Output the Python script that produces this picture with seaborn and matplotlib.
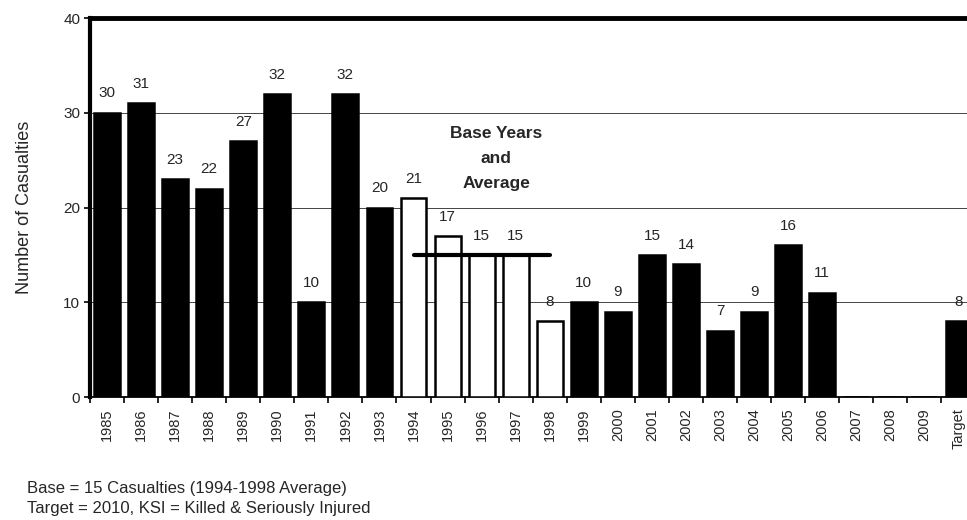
import matplotlib
matplotlib.use('Agg')
import pandas as pd
import matplotlib.pyplot as plt
import seaborn as sns

years = ['1985', '1986', '1987', '1988', '1989', '1990', '1991', '1992', '1993',
         '1994', '1995', '1996', '1997', '1998', '1999', '2000', '2001', '2002',
         '2003', '2004', '2005', '2006', '2007', '2008', '2009', 'Target']
casualties = [30, 31, 23, 22, 27, 32, 10, 32, 20,
              21, 17, 15, 15, 8, 10, 9, 15, 14,
              7, 9, 16, 11, 0, 0, 0, 8]
base_years = ['1994', '1995', '1996', '1997', '1998']
base_average = 15

df = pd.DataFrame({'year': years, 'casualties': casualties})
colours = {y: ('white' if y in base_years else 'black') for y in years}

sns.set_style('white')
plt.rcParams['font.family'] = ['Liberation Sans', 'DejaVu Sans']

fig = plt.figure(figsize=(9.67, 5.2), dpi=100)
ax = fig.add_axes([0.093, 0.2365, 0.907, 0.7285])

sns.barplot(data=df, x='year', y='casualties', hue='year', palette=colours,
            legend=False, width=0.76, edgecolor='black', linewidth=1.8,
            saturation=1, ax=ax, zorder=3)

# data labels
for i, v in enumerate(casualties):
    if v > 0:
        ax.annotate(str(v), (i, v), xytext=(0, 14), textcoords='offset points',
                    ha='center', va='center', fontsize=11)

# base average line
i0 = years.index(base_years[0])
i1 = years.index(base_years[-1])
ax.plot([i0, i1], [base_average, base_average], color='black', lw=3,
        solid_capstyle='round', zorder=4)
ax.text((i0 + i1) / 2 + 0.43, 28.65, 'Base Years\nand\nAverage', ha='center', va='top',
        fontsize=12.5, fontweight='bold', linespacing=1.85)

ax.set_ylim(0, 40)
ax.set_yticks([0, 10, 20, 30, 40])
ax.yaxis.grid(True, color='#444444', lw=0.7, zorder=0)
ax.set_axisbelow(True)

ax.set_xticks(range(len(years)))
ax.set_xticklabels(years, rotation=90, fontsize=10.5)
ax.set_xticks([i - 0.5 for i in range(len(years) + 1)], minor=True)
ax.tick_params(axis='x', which='major', length=0, pad=8)
ax.tick_params(axis='x', which='minor', length=4, width=1.2, direction='out', color='black')
ax.tick_params(axis='y', length=4, width=1.2, direction='out', color='black', labelsize=11, pad=3)
ax.xaxis.set_ticks_position('bottom')
ax.yaxis.set_ticks_position('left')
# set after the ticks, otherwise set_xticks widens the view again
ax.set_xlim(-0.5, 25.25)

ax.set_xlabel('')
ax.set_ylabel('Number of Casualties', fontsize=13, labelpad=22)

for side in ['top', 'left', 'bottom', 'right']:
    ax.spines[side].set_color('black')
ax.spines['top'].set_linewidth(3.5)
ax.spines['left'].set_linewidth(3)
ax.spines['bottom'].set_linewidth(1.3)
ax.spines['right'].set_visible(False)

fig.text(0.028, 0.06, 'Base = 15 Casualties (1994-1998 Average)', fontsize=12, va='center')
fig.text(0.028, 0.022, 'Target = 2010, KSI = Killed & Seriously Injured', fontsize=12, va='center')

fig.savefig('out.png', dpi=100)
